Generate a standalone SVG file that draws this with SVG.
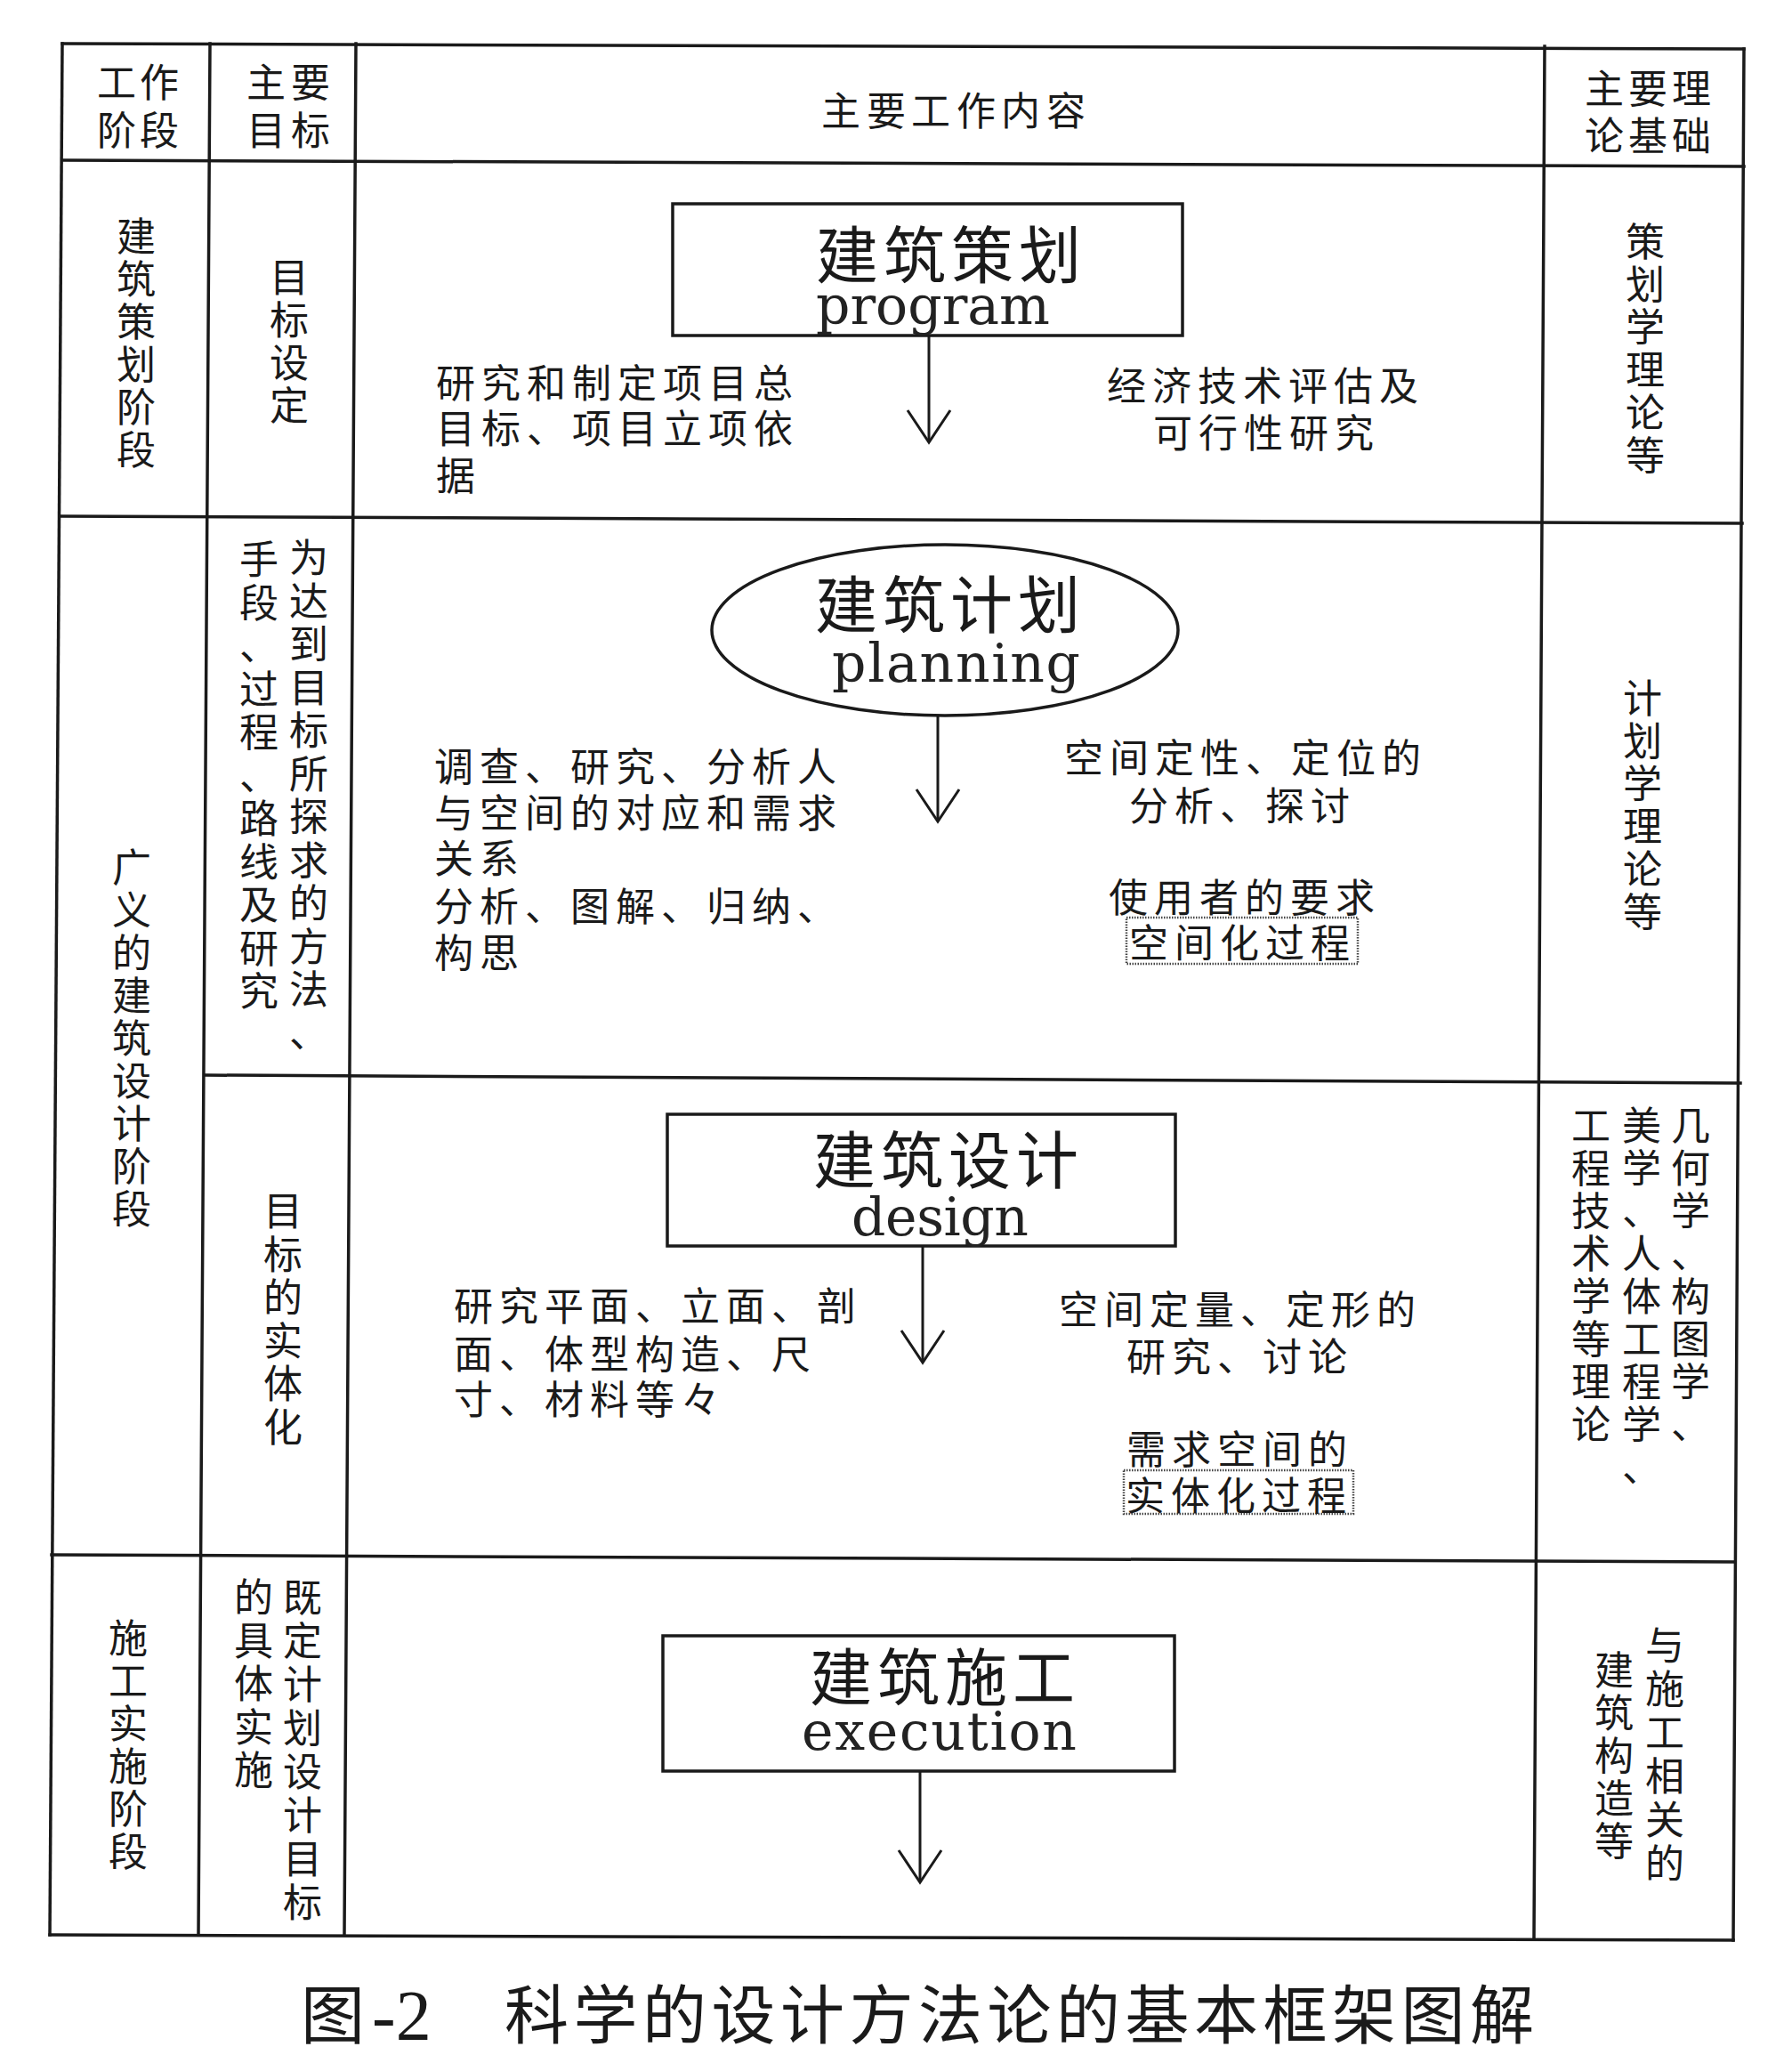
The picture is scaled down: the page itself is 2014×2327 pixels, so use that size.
<svg xmlns="http://www.w3.org/2000/svg" width="2014" height="2327" viewBox="0 0 2014 2327">
<style>
.cj{font-family:"Noto Sans CJK SC","Noto Sans CJK JP",sans-serif;font-size:44px;fill:#1a1a1a}
.v{text-anchor:middle}
.h{letter-spacing:7px}
.big{font-family:"Noto Sans CJK SC",sans-serif;font-size:70px;letter-spacing:6px;fill:#1a1a1a}
.en{font-family:"DejaVu Serif","Liberation Serif",serif;font-size:60px;fill:#222}
.grid line{stroke:#1a1a1a;stroke-width:3.5;stroke-linecap:square}
.box{fill:none;stroke:#1a1a1a;stroke-width:3.5}
.dot{fill:none;stroke:#444;stroke-width:2.5;stroke-dasharray:1.5 1.5}
.arr{fill:none;stroke:#1a1a1a;stroke-width:3;marker-end:url(#vh)}
.cap{font-family:"Noto Sans CJK SC",sans-serif;font-size:72px;letter-spacing:5.5px;fill:#1a1a1a}
.capn{font-family:"Liberation Serif",serif;font-size:80px;fill:#1a1a1a}
</style>
<defs>
<marker id="vh" viewBox="-40 -28 44 56" refX="0" refY="0" markerWidth="44" markerHeight="56" markerUnits="userSpaceOnUse" orient="auto">
<path d="M-36,-24 L0,0 L-36,24" fill="none" stroke="#1a1a1a" stroke-width="3"/>
</marker>
</defs>
<rect width="2014" height="2327" fill="#fff"/>

<g id="table" class="grid">
<line x1="70" y1="49" x2="1960" y2="55"/>
<line x1="70" y1="180" x2="1960" y2="187"/>
<line x1="67" y1="580" x2="1958" y2="588"/>
<line x1="231" y1="1208" x2="1956" y2="1217"/>
<line x1="58" y1="1747" x2="1950" y2="1755"/>
<line x1="56" y1="2174" x2="1948" y2="2180"/>
<line x1="70" y1="49" x2="56" y2="2174"/>
<line x1="236" y1="49" x2="223" y2="2174"/>
<line x1="400" y1="49" x2="387" y2="2174"/>
<line x1="1736" y1="52" x2="1724" y2="2178"/>
<line x1="1960" y1="55" x2="1948" y2="2180"/>
</g>

<g id="headers" class="cj v">
<text x="131 179" y="109">工作</text>
<text x="131 179" y="163">阶段</text>
<text x="299 349" y="109">主要</text>
<text x="299 349" y="163">目标</text>
<text x="945 996 1046 1097 1147 1198" y="141">主要工作内容</text>
<text x="1803 1852 1901" y="116">主要理</text>
<text x="1803 1852 1901" y="169">论基础</text>
</g>

<g id="stage-labels" class="cj v">
<text x="153 153 153 153 153 153" y="282 330 378 426 474 522">建筑策划阶段</text>
<text x="148 148 148 148 148 148 148 148 148" y="991 1039 1087 1135 1183 1231 1279 1327 1375">广义的建筑设计阶段</text>
<text x="144 144 144 144 144 144" y="1857 1905 1953 2001 2049 2097">施工实施阶段</text>
</g>

<g id="goals" class="cj v">
<text x="325 325 325 325" y="328 376 424 472">目标设定</text>
<text x="347 347 347 347 347 347 347 347 347 347 347 347" y="643 691.5 740 788.5 837 885.5 934 982.5 1031 1079.5 1128 1176.5">为达到目标所探求的方法、</text>
<text x="291 291 291 291 291 291 291 291 291 291 291" y="645 693.5 742 790.5 839 887.5 936 984.5 1033 1081.5 1130">手段、过程、路线及研究</text>
<text x="318 318 318 318 318 318" y="1377 1425.5 1474 1522.5 1571 1619.5">目标的实体化</text>
<text x="340 340 340 340 340 340 340 340" y="1811 1860 1909 1958 2007 2056 2105 2154">既定计划设计目标</text>
<text x="285 285 285 285 285" y="1811 1859.5 1908 1956.5 2005">的具体实施</text>
</g>

<g id="theories" class="cj v">
<text x="1849 1849 1849 1849 1849 1849" y="288 336 384 432 480 528">策划学理论等</text>
<text x="1846 1846 1846 1846 1846 1846" y="801 849 897 945 993 1041">计划学理论等</text>
<text x="1900 1900 1900 1900 1900 1900 1900 1900" y="1281 1329 1377 1425 1473 1521 1569 1617">几何学、构图学、</text>
<text x="1845 1845 1845 1845 1845 1845 1845 1845 1845" y="1281 1329 1377 1425 1473 1521 1569 1617 1665">美学、人体工程学、</text>
<text x="1788 1788 1788 1788 1788 1788 1788 1788" y="1281 1329 1377 1425 1473 1521 1569 1617">工程技术学等理论</text>
<text x="1871 1871 1871 1871 1871 1871" y="1865 1914 1963 2012 2061 2110">与施工相关的</text>
<text x="1814 1814 1814 1814 1814" y="1893 1941 1989 2037 2085">建筑构造等</text>
</g>

<g id="connectors">
<path class="arr" d="M1044,377 L1044,497"/>
<path class="arr" d="M1054,804 L1054,923"/>
<path class="arr" d="M1037,1400 L1037,1531"/>
<path class="arr" d="M1034,1989 L1034,2115"/>
</g>

<g id="n-program">
<rect class="box" x="756" y="229" width="573" height="148"/>
<text class="big" x="917" y="313">建筑策划</text>
<text class="en" x="917" y="364" textLength="263" lengthAdjust="spacing">program</text>
</g>
<g id="program-notes" class="cj h">
<text x="490" y="447">研究和制定项目总</text>
<text x="490" y="498">目标、项目立项依</text>
<text x="490" y="551">据</text>
<text x="1244" y="450">经济技术评估及</text>
<text x="1296" y="503">可行性研究</text>
</g>

<g id="n-planning">
<ellipse class="box" cx="1062" cy="708" rx="262" ry="96"/>
<text class="big" x="916" y="706">建筑计划</text>
<text class="en" x="935" y="766" textLength="279" lengthAdjust="spacing">planning</text>
</g>
<g id="planning-notes" class="cj h">
<text x="488" y="878">调查、研究、分析人</text>
<text x="488" y="930">与空间的对应和需求</text>
<text x="488" y="981">关系</text>
<text x="488" y="1035">分析、图解、归纳、</text>
<text x="488" y="1087">构思</text>
<text x="1196" y="868">空间定性、定位的</text>
<text x="1269" y="922">分析、探讨</text>
<text x="1246" y="1025">使用者的要求</text>
<rect class="dot" x="1266" y="1031" width="260" height="52"/>
<text x="1269" y="1076">空间化过程</text>
</g>

<g id="n-design">
<rect class="box" x="750" y="1252" width="571" height="148"/>
<text class="big" x="914" y="1330">建筑设计</text>
<text class="en" x="957" y="1388" textLength="199" lengthAdjust="spacing">design</text>
</g>
<g id="design-notes" class="cj h">
<text x="510" y="1484">研究平面、立面、剖</text>
<text x="510" y="1538">面、体型构造、尺</text>
<text x="510" y="1589">寸、材料等々</text>
<text x="1190" y="1488">空间定量、定形的</text>
<text x="1266" y="1541">研究、讨论</text>
<text x="1266" y="1645">需求空间的</text>
<rect class="dot" x="1263" y="1652" width="258" height="49"/>
<text x="1265" y="1697">实体化过程</text>
</g>

<g id="n-execution">
<rect class="box" x="745" y="1838" width="575" height="152"/>
<text class="big" x="910" y="1911">建筑施工</text>
<text class="en" x="901" y="1966" textLength="309" lengthAdjust="spacing">execution</text>
</g>

<g id="caption">
<text class="cap" x="338" y="2290">图</text>
<text class="capn" x="418" y="2292">-2</text>
<text class="cap" x="567" y="2290">科学的设计方法论的基本框架图解</text>
</g>
</svg>
